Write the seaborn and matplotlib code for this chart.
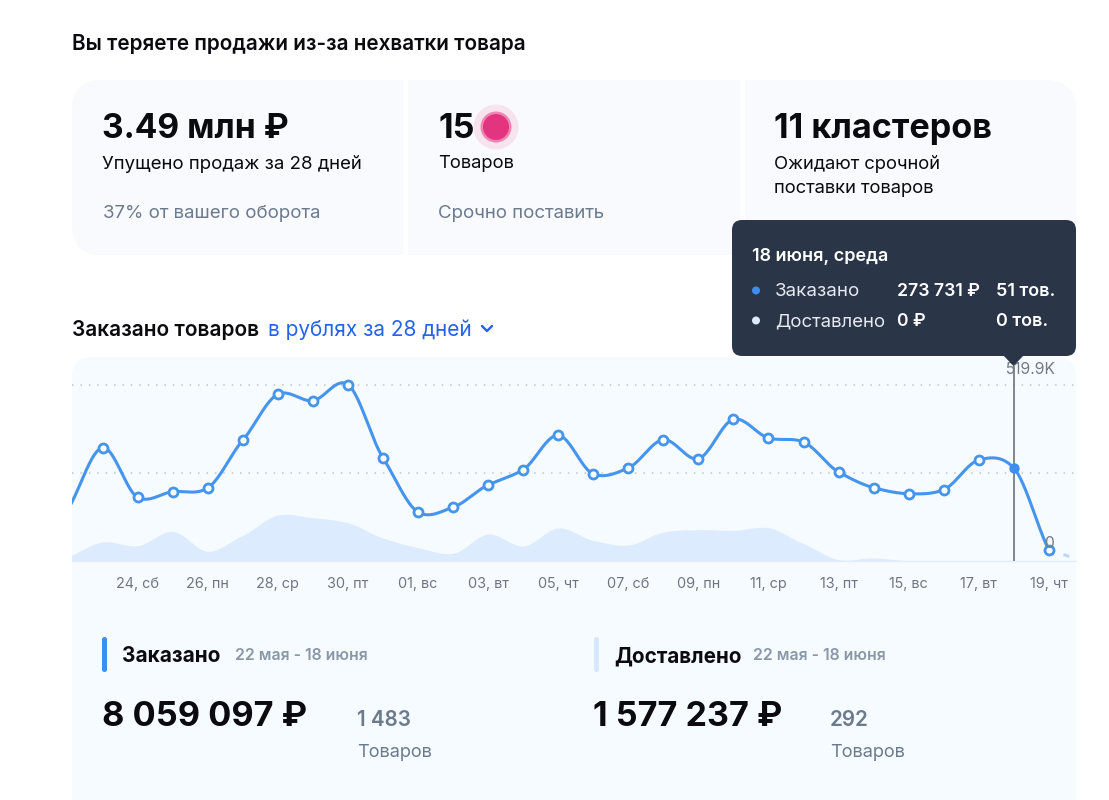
import numpy as np
import pandas as pd
import seaborn as sns
import matplotlib
matplotlib.use("Agg")
import matplotlib.pyplot as plt
from matplotlib.patches import FancyBboxPatch, Polygon, Circle, Rectangle

# ---------- data (thousand roubles per day) ----------
day_index = list(range(-1, 29))
ordered_k = [150, 333.7, 187.6, 204.1, 215, 355.5, 491, 472.2, 519.9, 304.3, 144.3, 158.2, 223.9,
             268.9, 370.3, 256.3, 273.9, 357.3, 301.3, 417.4, 362.3, 350.5, 262.2, 215.9, 198.2,
             210, 297.5, 273.7, 32.4, 0]
delivered_k = [12, 56, 45, 87.5, 28.6, 75.7, 135.5, 127.5, 112.8, 67.7, 39.2, 22.7, 79.5, 44.2,
               97.2, 61, 47, 85.4, 92.2, 90.4, 98, 51, 4, 9, 0, 0, 0, 0, 0, 0]
tick_days = [1, 3, 5, 7, 9, 11, 13, 15, 17, 19, 21, 23, 25, 27]
tick_labels = ["24, сб", "26, пн", "28, ср", "30, пт", "01, вс", "03, вт", "05, чт", "07, сб",
               "09, пн", "11, ср", "13, пт", "15, вс", "17, вт", "19, чт"]
grid_values = [0, 259.95, 519.9]
hover_day = 26

BLUE = "#4594EE"
AREA = "#DCEBFD"
PANEL = "#F6FBFF"
CARD = "#F9FAFE"
DARK = "#2A3547"
GREY = "#6B7A8D"
FONT = "Inter"
PX = 0.72  # px -> pt at dpi 100

sns.set_theme(style="white", font=FONT)
fig = plt.figure(figsize=(11.09, 8), dpi=100, facecolor="white")


def overlay(z):
    a = fig.add_axes([0, 0, 1, 1], zorder=z)
    a.set_xlim(0, 1109)
    a.set_ylim(800, 0)
    a.axis("off")
    a.patch.set_alpha(0)
    return a


def box(a, x0, y0, x1, y1, r, c, z=1):
    a.add_patch(FancyBboxPatch((x0, y0), x1 - x0, y1 - y0, boxstyle=f"round,pad=0,rounding_size={r}",
                               fc=c, ec="none", zorder=z))


def txt(a, x, y, s, px, c="#0B0B0F", w=400):
    a.text(x, y + 0.5 + 0.075 * px, s, fontsize=px * PX, color=c, fontweight=w, ha="left", va="center", zorder=5)


bg = overlay(0)
fg = overlay(3)

# ---------- background cards ----------
box(bg, 72, 80, 1076, 255, 30, CARD)
bg.add_patch(Rectangle((403, 78), 5, 180, fc="white", ec="none", zorder=2))
bg.add_patch(Rectangle((740, 78), 5, 180, fc="white", ec="none", zorder=2))
box(bg, 72, 357, 1076, 860, 20, PANEL)

txt(bg, 72, 42, "Вы теряете продажи из-за нехватки товара", 20.7, w=600)
txt(bg, 102, 126, "3.49 млн ₽", 33.6, w=700)
txt(bg, 102, 162, "Упущено продаж за 28 дней", 18.6)
txt(bg, 103, 212, "37% от вашего оборота", 18.6, GREY)
txt(bg, 438, 126, "15", 34, w=700)
txt(bg, 438, 162, "Товаров", 18.4)
txt(bg, 438, 212, "Срочно поставить", 18.6, GREY)
txt(bg, 774, 126, "11 кластеров", 34.2, w=700)
txt(bg, 774, 162, "Ожидают срочной", 18.4)
txt(bg, 774, 187, "поставки товаров", 18.4)
for r, c in [(22.5, "#F7E3EE"), (15.5, "#EE85B2"), (13, "#E2347F")]:
    bg.add_patch(Circle((496, 127), r, fc=c, ec="none", zorder=3))

txt(bg, 72, 328, "Заказано товаров", 20.9, w=600)
txt(bg, 268, 328, "в рублях за 28 дней", 20.8, "#2563EB")
bg.plot([482, 487, 492], [326, 331, 326], color="#2563EB", lw=1.7, solid_capstyle="round", zorder=5)

# ---------- footer ----------
box(bg, 102, 637, 107, 672, 2.5, "#3D8EF0", 3)
box(bg, 594, 637, 599, 672, 2.5, "#D6E8FC", 3)
txt(bg, 122, 654, "Заказано", 20.8, w=700)
txt(bg, 235, 654, "22 мая - 18 июня", 15.8, "#8A97A8", 600)
txt(bg, 614, 654, "Доставлено", 20.6, w=700)
txt(bg, 753, 654, "22 мая - 18 июня", 15.8, "#8A97A8", 600)
txt(bg, 102, 714, "8 059 097 ₽", 34.3, w=700)
txt(bg, 593, 714, "1 577 237 ₽", 34.1, w=700)
txt(bg, 357, 718, "1 483", 20.6, GREY, 600)
txt(bg, 830, 718, "292", 20.6, GREY, 600)
txt(bg, 357, 751, "Товаров", 18.2, GREY)
txt(bg, 830, 751, "Товаров", 18.2, GREY)

# ---------- chart axes ----------
PX_PER_DAY = 35.05
X0 = 102.5
PX_PER_K = 176.5 / 519.9
L, R, T, B = 72, 1076, 357, 561
ax = fig.add_axes([L / 1109, 1 - B / 800, (R - L) / 1109, (B - T) / 800], zorder=1)
ax.patch.set_alpha(0)
ax.set_xlim((L - X0) / PX_PER_DAY, (R - X0) / PX_PER_DAY)
ax.set_ylim(0, (B - T) / PX_PER_K)


def smooth(xs, ys, tension=0.85, n=24):
    """Rendering of the curve between read values (Hermite segments)."""
    xs, ys = np.asarray(xs, float), np.asarray(ys, float)
    m = np.gradient(ys, xs) * tension
    t = np.linspace(0, 1, n, endpoint=False)
    ox, oy = [], []
    for i in range(len(xs) - 1):
        h = xs[i + 1] - xs[i]
        ox.append(xs[i] + t * h)
        oy.append((2 * t**3 - 3 * t**2 + 1) * ys[i] + (t**3 - 2 * t**2 + t) * h * m[i]
                  + (-2 * t**3 + 3 * t**2) * ys[i + 1] + (t**3 - t**2) * h * m[i + 1])
    ox.append(xs[-1:])
    oy.append(ys[-1:])
    return np.concatenate(ox), np.concatenate(oy)


ax.set_yticks(grid_values[1:])
ax.set_yticklabels([])
ax.grid(False)
for v in grid_values[1:]:
    ax.axhline(v, color="#BFC5CE", lw=1.1, ls=(0, (1, 4.5)), zorder=1)

ax.set_xticks(tick_days)
ax.set_xticklabels(tick_labels, fontsize=14.4 * PX, color="#6E7682")
ax.tick_params(axis="x", length=0, pad=11.5)
ax.tick_params(axis="y", length=0)
sns.despine(ax=ax, left=True, right=True, top=True)
ax.spines["bottom"].set_color("#E3EDF7")
ax.spines["bottom"].set_linewidth(1)

xa, ya = smooth(day_index, delivered_k)
ax.fill_between(xa, 0, np.clip(ya, 0, None), color=AREA, lw=0, zorder=2)

n_solid = day_index.index(27) + 1
xl, yl = smooth(day_index[:n_solid], ordered_k[:n_solid])
sns.lineplot(x=xl, y=yl, color=BLUE, lw=2.2, estimator=None, sort=False, ax=ax, zorder=3, legend=False)
sns.lineplot(x=day_index[n_solid - 1:], y=ordered_k[n_solid - 1:], color="#BBD8F8", lw=2.2,
             estimator=None, sort=False, ax=ax, zorder=3, legend=False, linestyle=(0, (2, 3)))

ax.axvline(hover_day, ymin=0, ymax=(B - 366) / (B - T), color="#6B7380", lw=1.2, zorder=4)

df = pd.DataFrame({"day": day_index, "value": ordered_k})
pts = df[(df.day >= 0) & (df.day <= 27) & (df.day != hover_day)]
sns.scatterplot(data=pts, x="day", y="value", s=42, facecolor="white", edgecolor=BLUE, linewidth=2,
                ax=ax, zorder=5, legend=False, clip_on=False)
hov = df[df.day == hover_day]
sns.scatterplot(data=hov, x="day", y="value", s=56, color="#3D8EF0", linewidth=0, ax=ax, zorder=5, legend=False)

ax.set_xlabel("")
ax.set_ylabel("")
ax.text((1030 - X0) / PX_PER_DAY, 519.9 + 15 / PX_PER_K, "519.9K", fontsize=15.6 * PX,
        color="#737B87", ha="center", va="center", zorder=6)
ax.text(27, 18 / PX_PER_K, "0", fontsize=15.6 * PX, color="#737B87", ha="center", va="center", zorder=6)

# ---------- tooltip ----------
box(fg, 732, 220, 1076, 356, 10, DARK, 2)
fg.add_patch(Polygon([(1003, 355), (1024, 355), (1013.5, 366)], closed=True, fc=DARK, ec="none", zorder=2))
txt(fg, 752, 255, "18 июня, среда", 18, "white", 600)
fg.add_patch(Circle((756, 290.5), 4, fc="#3D8EF0", ec="none", zorder=4))
fg.add_patch(Circle((756, 320.5), 4, fc="#DCEBFD", ec="none", zorder=4))
txt(fg, 775, 290, "Заказано", 18.7, "#E6EAF0")
txt(fg, 775, 320, "Доставлено", 18.6, "#E6EAF0")
txt(fg, 897, 290, "273 731 ₽", 17.6, "white", 600)
txt(fg, 897, 320, "0 ₽", 17.6, "white", 600)
txt(fg, 996, 290, "51 тов.", 18, "white", 600)
txt(fg, 996, 320, "0 тов.", 18, "white", 600)

fig.savefig("out.png", dpi=100, facecolor="white")
